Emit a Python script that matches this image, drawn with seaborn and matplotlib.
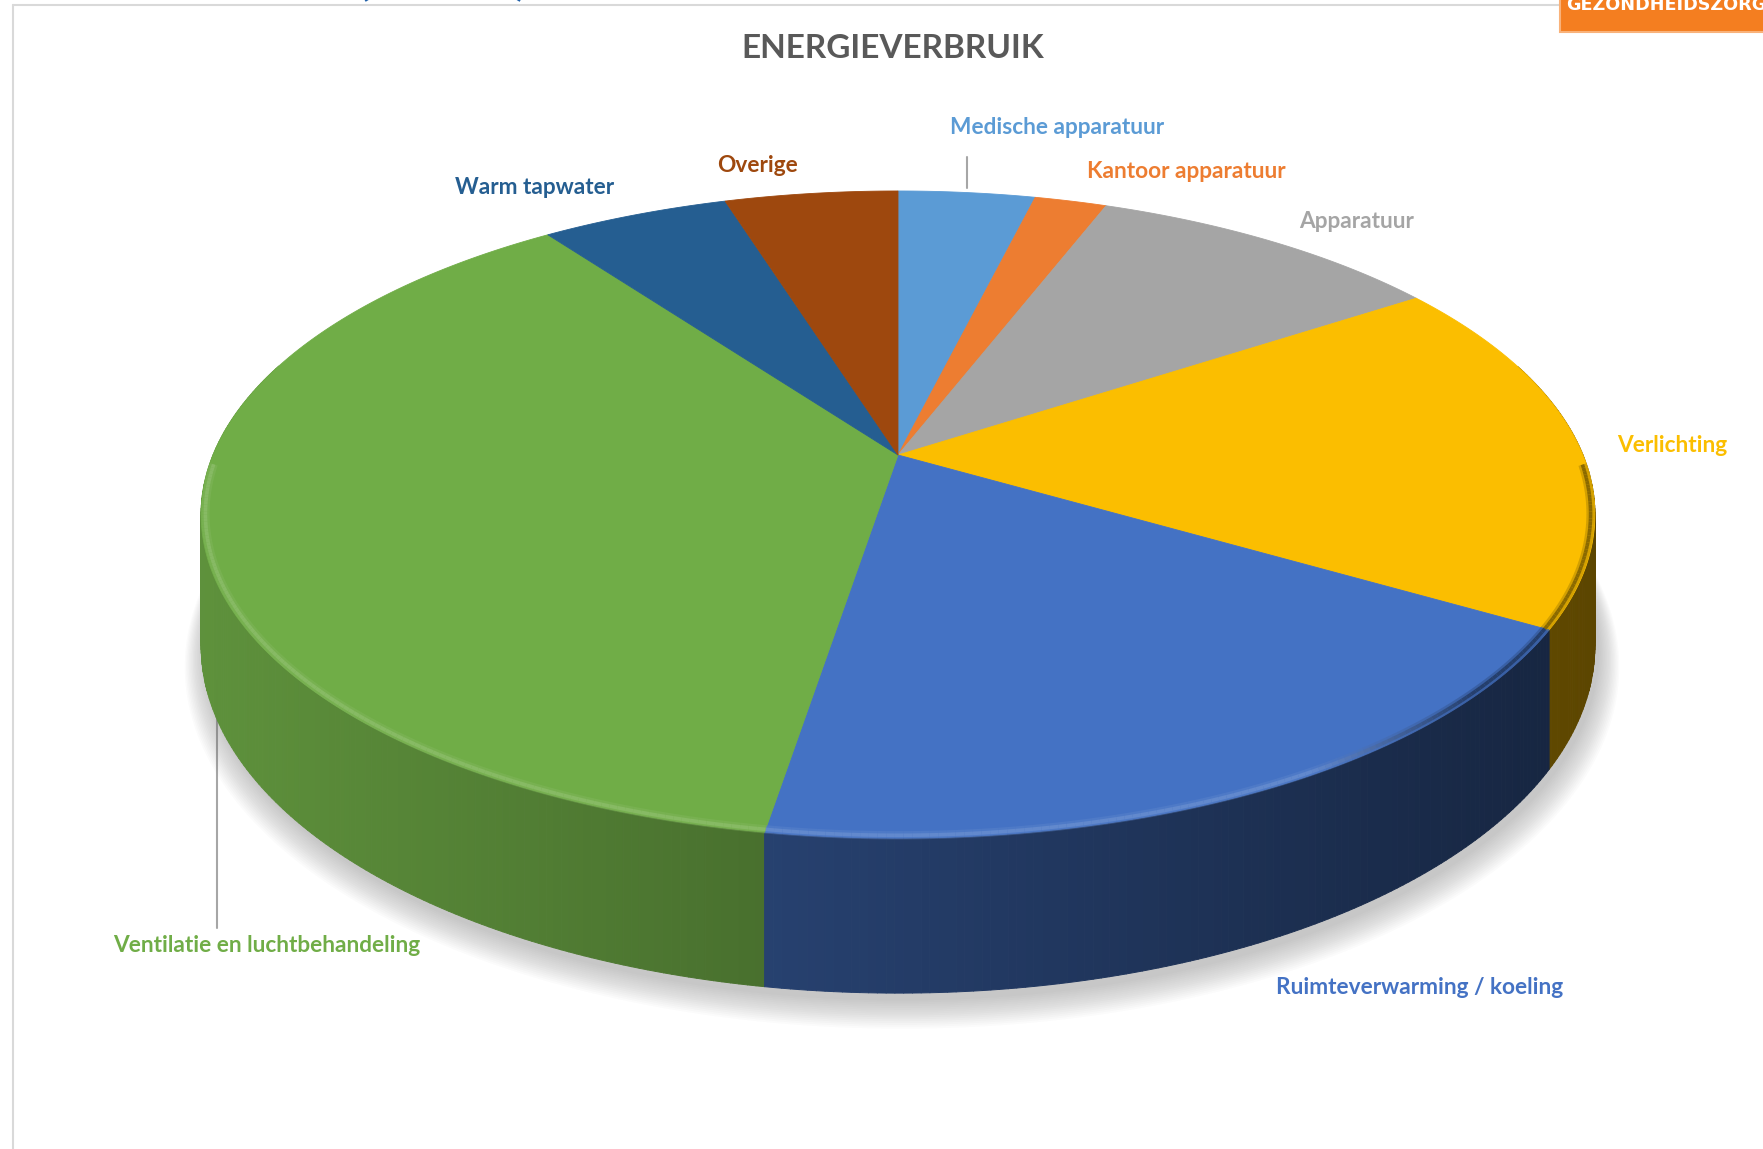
import numpy as np
import seaborn as sns
import matplotlib
matplotlib.use("Agg")
import matplotlib.pyplot as plt
import matplotlib.colors as mcolors
from matplotlib.transforms import Transform
from matplotlib.path import Path
from matplotlib.collections import PolyCollection, LineCollection
from matplotlib.patches import Rectangle
from matplotlib.lines import Line2D

# ---------------- data ----------------
categories = ["Medische apparatuur", "Kantoor apparatuur", "Apparatuur", "Verlichting",
              "Ruimteverwarming / koeling", "Ventilatie en luchtbehandeling",
              "Warm tapwater", "Overige"]
shares = [3.8, 2.0, 9.9, 17.8, 19.1, 37.5, 5.2, 4.8]
title = "ENERGIEVERBRUIK"

# ---------------- styles / layout ----------------
colors = ["#5B9BD5", "#ED7D31", "#A5A5A5", "#FBBE00",
          "#4472C4", "#70AD47", "#255E91", "#9E480E"]
side_tints = [1.0, 1.0, 1.0, 1.0, 0.88, 1.0, 1.0, 1.0]
label_xy = [(1057, 128), (1186, 172), (1357, 222), (1672, 445),
            (1420, 987), (267, 945), (535, 187), (758, 165)]

W, H = 1763, 1149
CX, CY = 898, 455        # projected pie centre (pixels)
A, B, K = 685.0, 312.6, 0.184   # perspective ellipse parameters
D = 126.5                 # pie thickness


def project(u, v, z=0.0):
    w = 1.0 + K * v
    return CX + A * u / w, CY - B * v / w + z / w


class Perspective(Transform):
    input_dims = 2
    output_dims = 2
    is_separable = False
    has_inverse = False

    def __init__(self, z=0.0):
        super().__init__()
        self.z = z

    def transform_non_affine(self, values):
        values = np.asarray(values, float).reshape(-1, 2)
        x, y = project(values[:, 0], values[:, 1], self.z)
        return np.column_stack([x, y])

    def transform_path_non_affine(self, path):
        pts, codes = [], []
        first = None
        for seg, code in path.iter_bezier():
            cp = seg.control_points
            if code == Path.MOVETO:
                first = cp[0]
                pts.append(cp[0]); codes.append(Path.MOVETO)
            else:
                n = 2 if code in (Path.LINETO, Path.CLOSEPOLY) else 40
                t = np.linspace(0, 1, n)[1:]
                p = seg(t)
                pts.extend(list(p)); codes.extend([Path.LINETO] * len(p))
                if code == Path.CLOSEPOLY:
                    pts.append(first); codes.append(Path.CLOSEPOLY)
        pts = np.array(pts)
        return Path(self.transform_non_affine(pts), codes)


sns.set_theme(style="white")
plt.rcParams['font.family'] = ['Lato', 'DejaVu Sans']

fig = plt.figure(figsize=(W / 100, H / 100), dpi=100)
fig.patch.set_facecolor("white")
ax = fig.add_axes([0, 0, 1, 1])

# top face through the library's pie
wedges, _ = ax.pie(shares, colors=colors, startangle=90, counterclock=False,
                   radius=1.0,
                   wedgeprops=dict(transform=Perspective(0.0) + ax.transData,
                                   linewidth=0, zorder=5))
for wdg in wedges:
    wdg.set_edgecolor(wdg.get_facecolor())
    wdg.set_linewidth(0.6)
ax.set_aspect("auto")
ax.set_xlim(0, W)
ax.set_ylim(H, 0)
ax.axis("off")

# soft shadow under the pie
tt = np.linspace(0, 2 * np.pi, 360)
nl = 16
for i in range(nl):
    r = 1.0 + 0.03 * i / nl
    xs, ys = project(r * np.cos(tt), r * np.sin(tt), D + 6 + 12 * i / nl)
    ax.fill(xs + 4, ys, color=(0.45, 0.45, 0.45), alpha=0.026, lw=0, zorder=1)

# side walls, derived from the wedge angles
polys, pcols, depth = [], [], []
rim_segs, rim_cols, rim_w = [], [], []
for wdg, col, tint in zip(wedges, colors, side_tints):
    t1, t2 = wdg.theta1, wdg.theta2
    n = max(2, int(np.ceil((t2 - t1) / 0.6)))
    edges = np.radians(np.linspace(t1, t2, n + 1))
    base = np.array(mcolors.to_rgb(col))
    for a, b in zip(edges[:-1], edges[1:]):
        mid = 0.5 * (a + b)
        if np.sin(mid) > 0.3:
            continue
        xa, ya = project(np.cos(a), np.sin(a))
        xb, yb = project(np.cos(b), np.sin(b))
        xa2, ya2 = project(np.cos(a), np.sin(a), D)
        xb2, yb2 = project(np.cos(b), np.sin(b), D)
        xm = 0.5 * (xa + xb)
        f = np.clip(0.84 - 0.46 * (xm - 200) / 1350, 0.3, 0.9) * tint
        polys.append([(xa, ya), (xb, yb), (xb2, yb2), (xa2, ya2)])
        pcols.append(np.clip(base * f, 0, 1))
        depth.append(np.sin(mid))
        if np.sin(mid) < -0.03:
            rr = 0.994
            ra = project(rr * np.cos(a), rr * np.sin(a))
            rb = project(rr * np.cos(b), rr * np.sin(b))
            s = (xm - 200) / 1390
            light = base + (1 - base) * 0.16
            if s < 0.8:
                c = light
            else:
                k = min(1, (s - 0.8) / 0.12)
                c = light * (1 - k) + base * 0.55 * k
            rim_segs.append([ra, rb])
            rim_cols.append(np.clip(c, 0, 1))

order = np.argsort(depth)[::-1]
ax.add_collection(PolyCollection([polys[i] for i in order],
                                 facecolors=[pcols[i] for i in order],
                                 edgecolors=[pcols[i] for i in order],
                                 linewidths=0.7, zorder=3))
ax.add_collection(LineCollection(rim_segs, colors=rim_cols, linewidths=6,
                                 alpha=0.35, capstyle="butt", zorder=6))
ax.add_collection(LineCollection(rim_segs, colors=rim_cols, linewidths=2.6,
                                 capstyle="butt", zorder=6.1))

# leader lines
ax.add_line(Line2D([967, 967], [157, 188], color="#A6A6A6", lw=1.5, zorder=7))
ax.add_line(Line2D([217, 217], [680, 928], color="#A6A6A6", lw=1.5, zorder=0.5))

# labels
for name, col, (lx, ly) in zip(categories, colors, label_xy):
    ax.text(lx, ly, name, color=col, fontsize=16.3, fontweight="bold",
            ha="center", va="center", zorder=8)

ax.text(893, 48, title, color="#595959", fontsize=24, fontweight="bold",
        ha="center", va="center", zorder=8)

# chart frame (partial, as in the screenshot)
ax.add_line(Line2D([13, 13], [5, H], color="#D9D9D9", lw=1.5, zorder=0.5))
ax.add_line(Line2D([13, 1560], [5, 5], color="#D9D9D9", lw=1.5, zorder=0.5))

# cut-off orange banner at top right
ax.add_patch(Rectangle((1560, -5), 210, 37, facecolor="#F47E20",
                       edgecolor="#F9B27A", lw=1.5, zorder=9))
ax.text(1566, 10, "GEZONDHEIDSZORG", color="white", fontsize=12.7,
        fontweight="bold", ha="left", va="baseline", zorder=10,
        family=["DejaVu Sans"])

# cut-off blue brackets of a slide title above
ax.text(364, -7, "(", color="#1F5FA8", fontsize=40, fontweight="bold",
        ha="center", va="baseline", zorder=10)
ax.text(521, -7, ")", color="#1F5FA8", fontsize=40, fontweight="bold",
        ha="center", va="baseline", zorder=10)

fig.savefig("out.png", dpi=100)
